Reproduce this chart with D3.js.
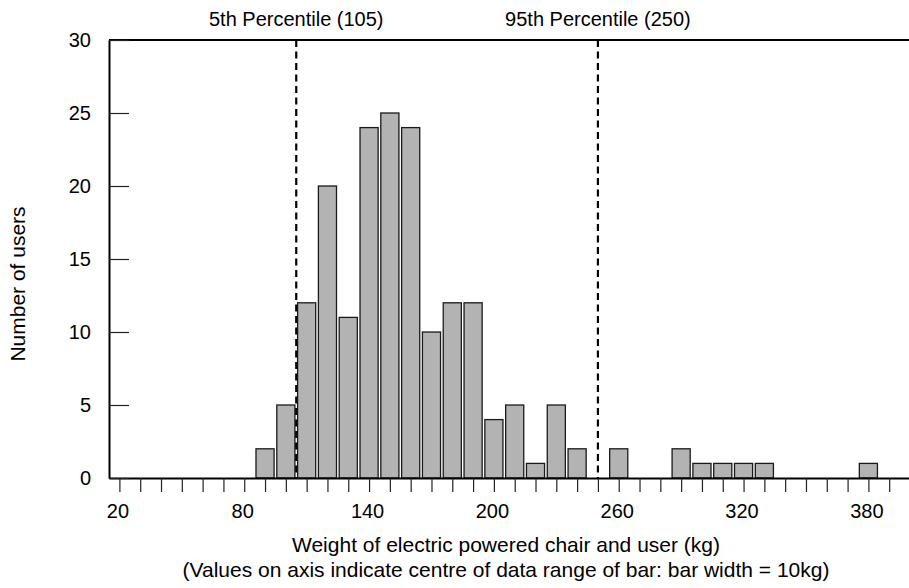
<!DOCTYPE html>
<html>
<head>
<meta charset="utf-8">
<script src="https://cdn.jsdelivr.net/npm/d3@7"></script>
<style>
  body { margin: 0; background: #fff; }
  svg { display: block; font-family: "Liberation Sans", Arial, sans-serif; }
</style>
</head>
<body>
<svg id="chart" width="909" height="588"></svg>
<script>
// bar centres (kg) and number of users in each 10kg band
const centres = [90, 100, 110, 120, 130, 140, 150, 160, 170, 180, 190, 200, 210, 220, 230, 240, 260, 290, 300, 310, 320, 330, 380];
const users   = [2,  5,   12,  20,  11,  24,  25,  24,  10,  12,  12,  4,   5,   1,   5,   2,   2,   2,   1,   1,   1,   1,   1];

const yTicks = [0, 5, 10, 15, 20, 25, 30];
const xLabelled = [20, 80, 140, 200, 260, 320, 380];
const percentiles = [
  { value: 105, label: "5th Percentile (105)" },
  { value: 250, label: "95th Percentile (250)" }
];

const svg = d3.select("#chart");

const plotLeft = 109, plotRight = 910, plotTop = 40, plotBottom = 478;

const x = d3.scaleLinear().domain([15, 400]).range([plotLeft, plotRight]);
const y = d3.scaleLinear().domain([0, 30]).range([plotBottom, plotTop]);

// Bars
svg.append("g")
  .selectAll("rect")
  .data(centres.map((c, i) => ({ c, n: users[i] })))
  .join("rect")
  .attr("x", d => x(d.c - 4.35))
  .attr("width", d => x(d.c + 4.35) - x(d.c - 4.35))
  .attr("y", d => y(d.n))
  .attr("height", d => y(0) - y(d.n))
  .attr("fill", "#b3b3b3")
  .attr("stroke", "#1a1a1a")
  .attr("stroke-width", 1.3);

// Top frame line
svg.append("line")
  .attr("x1", plotLeft).attr("x2", 909)
  .attr("y1", plotTop).attr("y2", plotTop)
  .attr("stroke", "#000")
  .attr("stroke-width", 2);

// X axis
const xAxis = svg.append("g")
  .attr("transform", `translate(0,${plotBottom})`)
  .call(d3.axisBottom(x)
    .tickValues(d3.range(20, 400, 10))
    .tickFormat(d => xLabelled.includes(d) ? d : "")
    .tickSizeInner(14)
    .tickSizeOuter(0)
    .tickPadding(12));
xAxis.select(".domain").attr("stroke-width", 2).attr("stroke", "#000");
xAxis.selectAll(".tick line").attr("stroke", "#222").attr("stroke-width", 1.2);
xAxis.selectAll(".tick text")
  .attr("fill", "#000")
  .attr("dx", -2)
  .style("font-size", "20px")
  .style("font-family", "'Liberation Sans', Arial, sans-serif");

// Y axis (ticks point inwards)
const yAxis = svg.append("g")
  .attr("transform", `translate(${plotLeft},0)`)
  .call(d3.axisLeft(y)
    .tickValues(yTicks)
    .tickSizeInner(-20)
    .tickSizeOuter(0)
    .tickPadding(18));
yAxis.select(".domain").attr("stroke-width", 2).attr("stroke", "#000");
yAxis.selectAll(".tick line").attr("stroke", "#222").attr("stroke-width", 1.2);
yAxis.selectAll(".tick text")
  .attr("fill", "#000")
  .style("font-size", "20px")
  .style("font-family", "'Liberation Sans', Arial, sans-serif");

// Percentile markers
svg.append("g")
  .selectAll("line")
  .data(percentiles)
  .join("line")
  .attr("x1", d => x(d.value)).attr("x2", d => x(d.value))
  .attr("y1", plotTop).attr("y2", plotBottom)
  .attr("stroke", "#000")
  .attr("stroke-width", 2.2)
  .attr("stroke-dasharray", "7,4.5");

svg.append("g")
  .selectAll("text")
  .data(percentiles)
  .join("text")
  .attr("x", d => x(d.value))
  .attr("y", 26)
  .attr("text-anchor", "middle")
  .style("font-size", "20px")
  .text(d => d.label);

// Axis titles
svg.append("text")
  .attr("x", 506).attr("y", 552)
  .attr("text-anchor", "middle")
  .style("font-size", "21px")
  .text("Weight of electric powered chair and user (kg)");

svg.append("text")
  .attr("x", 506).attr("y", 577)
  .attr("text-anchor", "middle")
  .style("font-size", "21px")
  .text("(Values on axis indicate centre of data range of bar: bar width = 10kg)");

svg.append("text")
  .attr("transform", "translate(25,284) rotate(-90)")
  .attr("text-anchor", "middle")
  .style("font-size", "21px")
  .text("Number of users");
</script>
</body>
</html>
